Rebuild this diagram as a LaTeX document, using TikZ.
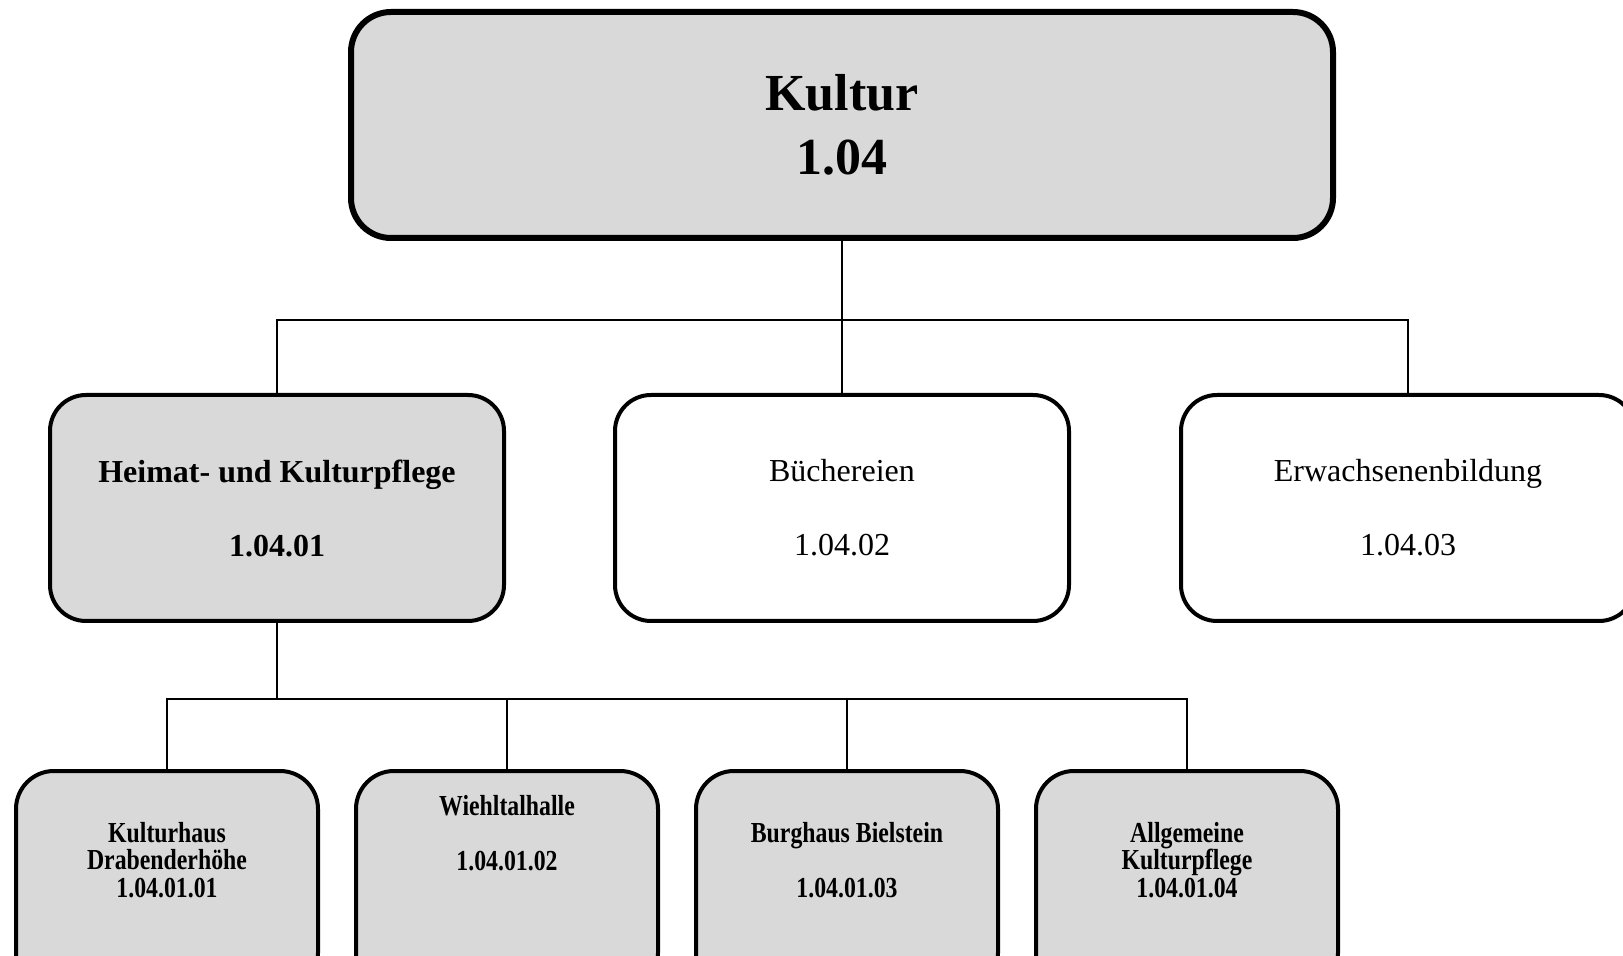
\documentclass[tikz,border=0pt]{standalone}
\usepackage{fontspec}
\setmainfont{Liberation Serif}
\newfontfamily\narrowserif[FakeStretch=0.82]{Liberation Serif}
\usepackage{tikz}
\definecolor{boxgray}{HTML}{D9D9D9}

\begin{document}
\begin{tikzpicture}[x=0.5pt,y=-0.5pt,
  conn/.style={line width=1.3pt},
  topbox/.style={draw,line width=3pt,fill=boxgray,rounded corners=20pt,
    minimum width=491pt,minimum height=113pt,align=center,
    font=\fontsize{26}{32}\selectfont\bfseries},
  midbox/.style={draw,line width=2pt,rounded corners=18pt,
    minimum width=227pt,minimum height=113pt,align=center,
    font=\fontsize{16}{18.5}\selectfont},
  midbold/.style={fill=boxgray,font=\fontsize{16}{18.5}\selectfont\bfseries},
  subbox/.style={draw,line width=2pt,fill=boxgray,rounded corners=19pt,
    minimum width=151pt,minimum height=110pt},
  subtext/.style={align=center,font=\narrowserif\fontsize{14.5}{13.75}\selectfont\bfseries}]
  \useasboundingbox (0,0) rectangle (1623,956);

  \node[topbox]         (kultur) at (842,125)                            {Kultur\\1.04};
  \node[midbox]         (buch)   [below of=kultur,node distance=191.5pt] {Büchereien\\[18.5pt]1.04.02};
  \node[midbox,midbold] (heimat) [left of=buch,node distance=282.5pt]    {Heimat- und Kulturpflege\\[18.5pt]1.04.01};
  \node[midbox]         (erw)    [right of=buch,node distance=283pt]     {Erwachsenenbildung\\[18.5pt]1.04.03};

  \node[subbox] (kh) at (167,881) {};
  \node[subbox] (wh) [right of=kh,node distance=170pt] {};
  \node[subbox] (bb) [right of=wh,node distance=170pt] {};
  \node[subbox] (ak) [right of=bb,node distance=170pt] {};

  \node[subtext,yshift=10.5pt] (khtext) at (kh) {Kulturhaus\\Drabenderhöhe\\1.04.01.01};
  \node[subtext,yshift=24pt]   (whtext) at (wh) {Wiehltalhalle\\[13.75pt]1.04.01.02};
  \node[subtext,yshift=10.5pt] (bbtext) at (bb) {Burghaus Bielstein\\[13.75pt]1.04.01.03};
  \node[subtext,yshift=10.5pt] (aktext) at (ak) {Allgemeine\\Kulturpflege\\1.04.01.04};

  \draw[conn] (kultur) -- (buch);
  \draw[conn] (kultur.south) -- ++(0,79) -| (heimat.north);
  \draw[conn] (kultur.south) -- ++(0,79) -| (erw.north);
  \draw[conn] (heimat.south) -- ++(0,76) -| (kh.north);
  \draw[conn] (heimat.south) -- ++(0,76) -| (ak.north);
  \draw[conn] (heimat.south) ++(0,76) -| (wh.north);
  \draw[conn] (heimat.south) ++(0,76) -| (bb.north);
\end{tikzpicture}
\end{document}
